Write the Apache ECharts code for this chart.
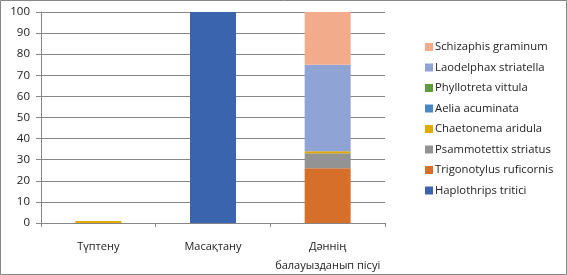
<!DOCTYPE html>
<html><head><meta charset="utf-8">
<script src="https://cdn.jsdelivr.net/npm/echarts@6/dist/echarts.min.js"></script>
<style>html,body{margin:0;padding:0;background:#fff}#c{width:567px;height:275px}</style>
</head><body><div id="c"></div>
<script>
const categories = ['Түптену', 'Масақтану', 'Дәннің\nбалауызданып пісуі'];
const seriesNames = ['Haplothrips tritici', 'Trigonotylus ruficornis', 'Psammotettix striatus', 'Chaetonema aridula', 'Aelia acuminata', 'Phyllotreta vittula', 'Laodelphax striatella', 'Schizaphis graminum'];
const haplothrips = [0, 100, 0];
const trigonotylus = [0, 0, 26];
const psammotettix = [0, 0, 7];
const chaetonema = [1, 0, 1];
const aelia = [0, 0, 0];
const phyllotreta = [0, 0, 0];
const laodelphax = [0, 0, 41];
const schizaphis = [0, 0, 25];
const yTicks = [0, 10, 20, 30, 40, 50, 60, 70, 80, 90, 100];
const colors = ['#3A64AE', '#D56F2A', '#939393', '#E0AA00', '#4A86C0', '#5E9A3E', '#8FA3D4', '#F2AB8B'];
const values = [haplothrips, trigonotylus, psammotettix, chaetonema, aelia, phyllotreta, laodelphax, schizaphis];

const font = 'Open Sans';
const chart = echarts.init(document.getElementById('c'));
chart.setOption({
  animation: false,
  color: colors,
  graphic: [{type: 'rect', shape: {x: 0.5, y: 0.5, width: 566, height: 274}, style: {fill: null, stroke: '#868686', lineWidth: 1}, silent: true}],
  grid: {left: 41, right: 182, top: 12, bottom: 51},
  legend: {
    orient: 'vertical', left: 425, top: 41, padding: 0,
    itemWidth: 8, itemHeight: 8, itemGap: 8.5,
    icon: 'rect',
    data: seriesNames.slice().reverse(),
    textStyle: {fontFamily: font, fontSize: 11.3, color: '#222', lineHeight: 12, padding: [0, 0, 0, -3]}
  },
  xAxis: {
    type: 'category', data: categories,
    axisLine: {lineStyle: {color: '#868686', width: 1}},
    axisTick: {show: true, length: 4, lineStyle: {color: '#868686'}},
    axisLabel: {fontFamily: font, fontSize: 11, color: '#222', margin: 14, lineHeight: 19, interval: 0}
  },
  yAxis: {
    type: 'value', min: yTicks[0], max: yTicks[yTicks.length - 1], interval: 10,
    axisLine: {show: true, lineStyle: {color: '#868686'}},
    axisTick: {show: true, length: 5, lineStyle: {color: '#868686'}},
    splitLine: {lineStyle: {color: '#868686', width: 1}},
    axisLabel: {fontFamily: font, fontSize: 11.5, color: '#222', margin: 11}
  },
  series: seriesNames.map((n, i) => ({
    name: n, type: 'bar', stack: 'total', barWidth: 46,
    data: values[i], itemStyle: {color: colors[i]}
  }))
});
</script></body></html>
